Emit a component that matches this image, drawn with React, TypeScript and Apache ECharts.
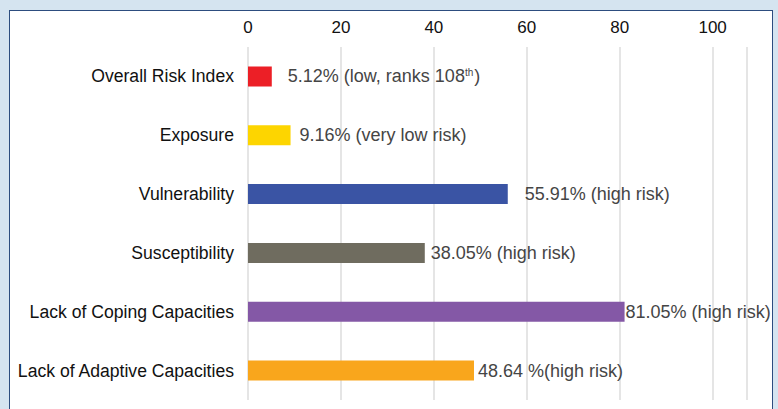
import React, { useEffect, useRef } from "react";
import * as echarts from "echarts";

const categories = [
  "Overall Risk Index",
  "Exposure",
  "Vulnerability",
  "Susceptibility",
  "Lack of Coping Capacities",
  "Lack of Adaptive Capacities",
];
const values = [5.12, 9.16, 55.91, 38.05, 81.05, 48.64];
const valueLabels = [
  "5.12% (low, ranks 108{sup|th}{v|)}",
  "9.16% (very low risk)",
  "55.91% (high risk)",
  "38.05% (high risk)",
  "81.05% (high risk)",
  "48.64 %(high risk)",
];
const barColors = ["#ec1f26", "#fdd500", "#3a54a4", "#6f6c5f", "#8458a6", "#f9a61c"];
const labelGaps = [16, 9, 17, 6, 1, 4];
const axisMin = 0;
const axisMax = 107.4;
const axisInterval = 20;

const FONT = "'Liberation Sans', Arial, sans-serif";

export default function App() {
  const ref = useRef<HTMLDivElement>(null);

  useEffect(() => {
    document.body.style.margin = "0";
    if (!ref.current) return;
    const chart = echarts.init(ref.current, undefined, { renderer: "svg" });
    chart.setOption({
      animation: false,
      grid: { left: 248, right: 31, top: 47, bottom: 9 },
      xAxis: {
        type: "value",
        position: "top",
        min: axisMin,
        max: axisMax,
        interval: axisInterval,
        axisLine: { show: false },
        axisTick: { show: false },
        axisLabel: {
          showMaxLabel: false,
          margin: 11,
          fontSize: 17,
          color: "#111111",
          fontFamily: FONT,
        },
        splitLine: { show: true, lineStyle: { color: "#dcdcdc", width: 1.5 } },
      },
      yAxis: {
        type: "category",
        inverse: true,
        data: categories,
        axisLine: { show: false },
        axisTick: { show: false },
        axisLabel: {
          margin: 14,
          fontSize: 17.6,
          color: "#111111",
          fontFamily: FONT,
        },
      },
      series: [
        {
          type: "bar",
          barWidth: 20,
          data: values.map((v, i) => ({
            value: v,
            itemStyle: { color: barColors[i] },
            label: {
              show: true,
              position: "right",
              distance: labelGaps[i],
              formatter: valueLabels[i],
            },
          })),
          label: {
            fontSize: 18,
            color: "#454545",
            fontFamily: FONT,
            rich: {
              v: { fontSize: 18, color: "#454545", fontFamily: FONT },
              sup: {
                fontSize: 10,
                color: "#454545",
                fontFamily: FONT,
                verticalAlign: "top",
                padding: [0, 1, 0, 0],
              },
            },
          },
        },
      ],
    });
    return () => chart.dispose();
  }, []);

  return (
    <div
      style={{
        position: "relative",
        width: 778,
        height: 409,
        background: "#d5e4f0",
        overflow: "hidden",
      }}
    >
      <div
        style={{
          position: "absolute",
          left: 9,
          top: 10,
          width: 762,
          height: 430,
          border: "1.5px solid #2d4d7f",
          background: "#ffffff",
        }}
      />
      <div
        ref={ref}
        style={{ position: "absolute", left: 0, top: 0, width: 778, height: 409 }}
      />
    </div>
  );
}
